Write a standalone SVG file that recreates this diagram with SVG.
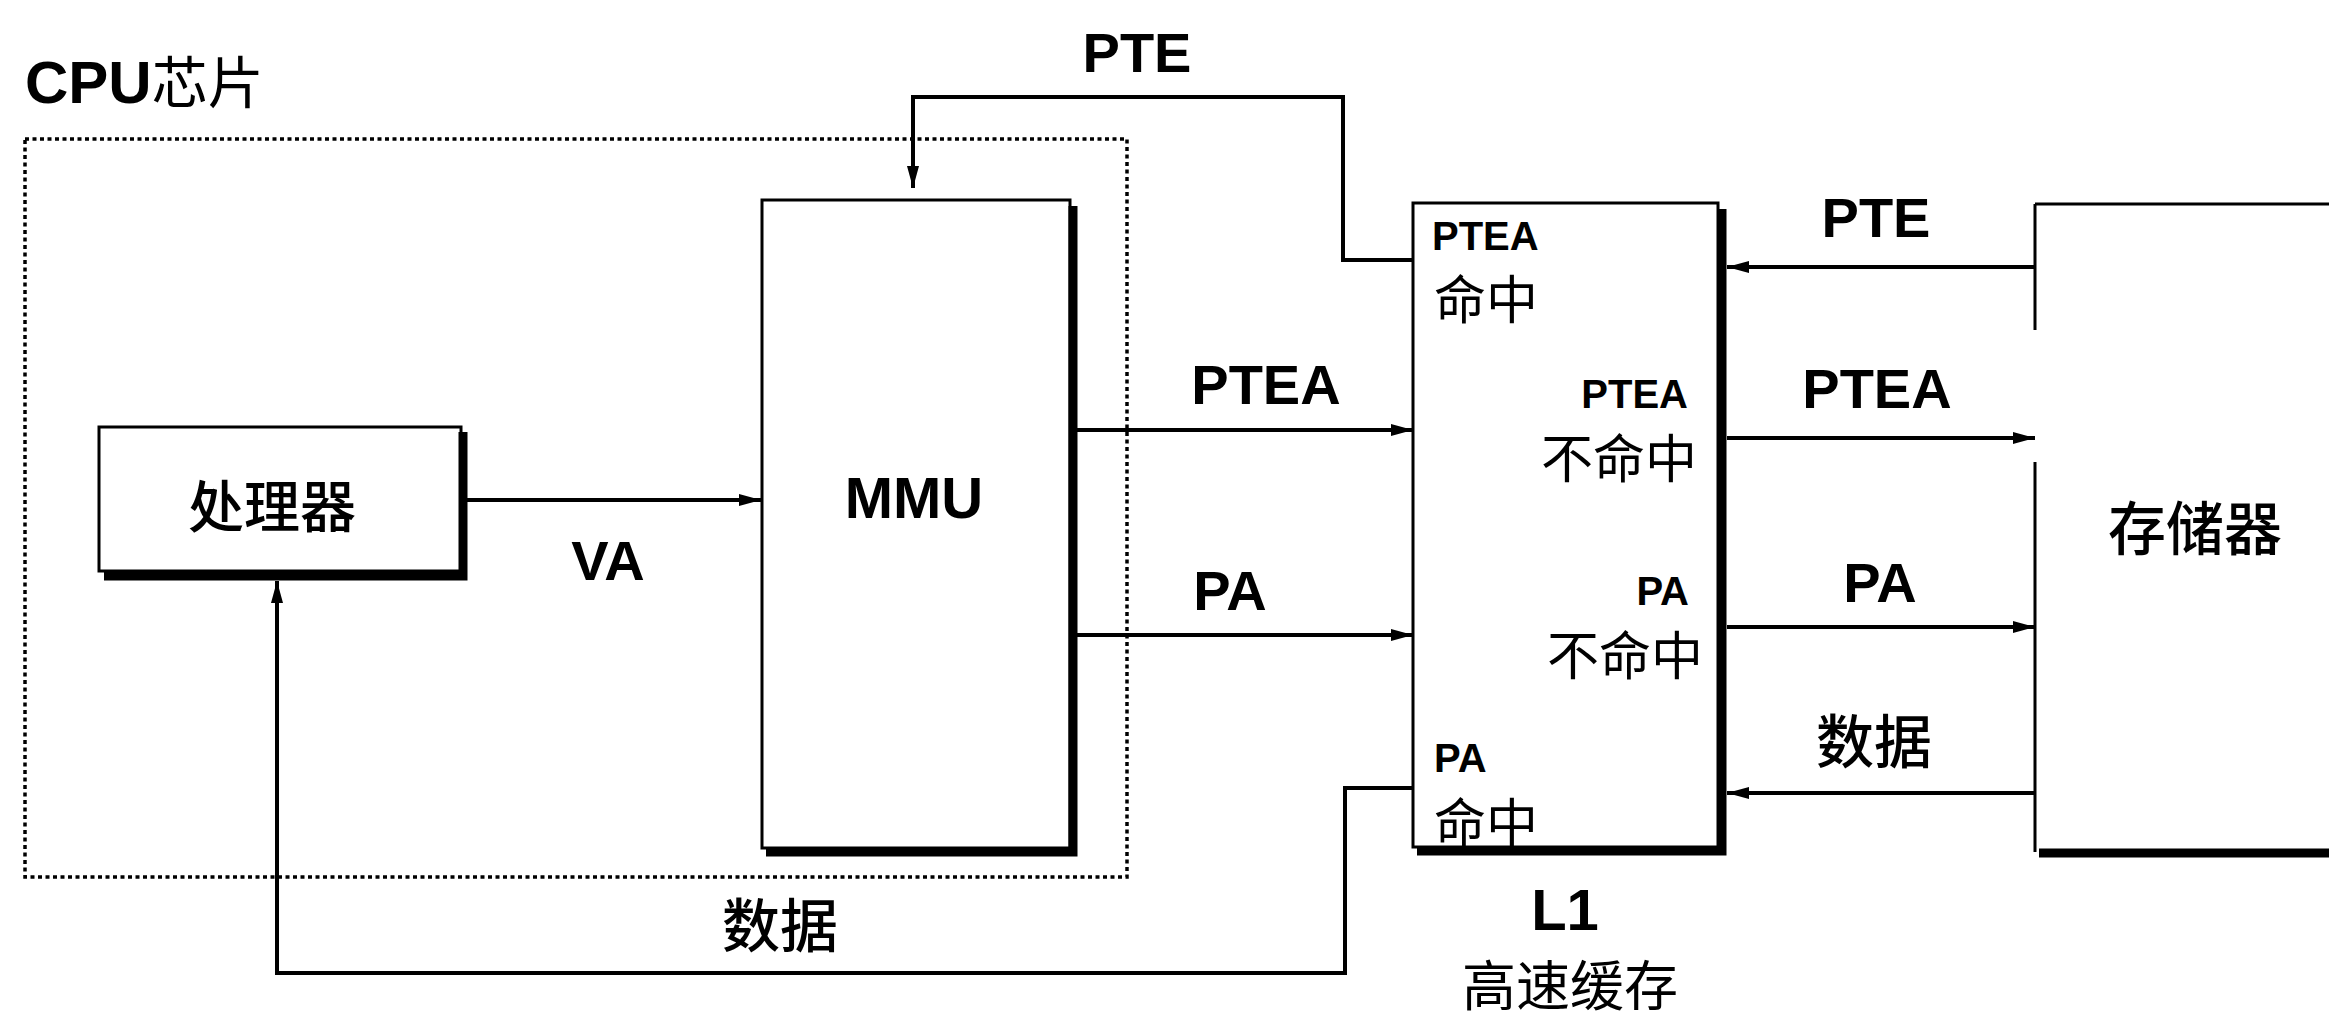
<svg xmlns="http://www.w3.org/2000/svg" width="2329" height="1023" viewBox="0 0 2329 1023">
<style>
  .box{fill:#fff;stroke:#000;stroke-width:3}
  .shadow{fill:none;stroke:#000;stroke-width:9;stroke-linejoin:miter}
  .edge{fill:none;stroke:#000;stroke-width:3}
  .dash{fill:none;stroke:#000;stroke-width:3.5;stroke-dasharray:4 3.5}
  .conn{fill:none;stroke:#000;stroke-width:4;stroke-linejoin:miter}
  .lat{font-family:"Liberation Sans",Arial,sans-serif;font-weight:bold;fill:#000}
  .cjk{font-family:"Noto Sans CJK SC","Noto Sans",sans-serif;fill:#000}
  .med{font-weight:500}
  .big{font-size:56px}
  .small{font-size:40px}
  .in{font-size:52px}
  .c{text-anchor:middle}
  .r{text-anchor:end}
</style>
<defs>
  <marker id="ah" viewBox="0 0 22 12" refX="22" refY="6" markerWidth="22" markerHeight="12" markerUnits="userSpaceOnUse" orient="auto">
    <path d="M0,0 L22,6 L0,12 z" fill="#000"/>
  </marker>
</defs>
<rect width="2329" height="1023" fill="#fff"/>

<g id="cpu-chip">
  <rect class="dash" x="25" y="139" width="1102" height="738"/>
  <text x="25" y="103" class="lat" font-size="60">CPU<tspan class="cjk" font-size="56" font-weight="normal">芯片</tspan></text>
</g>

<g id="processor">
  <rect class="box" x="99" y="427" width="362" height="144"/>
  <path class="shadow" d="M463,432 V576 H104"/>
  <text x="272" y="527" class="cjk med big c">处理器</text>
</g>

<g id="mmu">
  <rect class="box" x="762" y="200" width="308" height="648"/>
  <path class="shadow" d="M1073,206 V852 H766"/>
  <text x="914" y="518" class="lat c" font-size="58">MMU</text>
</g>

<g id="l1-cache">
  <rect class="box" x="1413" y="203" width="305" height="644"/>
  <path class="shadow" d="M1722,209 V851 H1417"/>
  <text x="1432" y="250" class="lat small">PTEA</text>
  <text x="1434" y="319" class="cjk in">命中</text>
  <text x="1688" y="408" class="lat small r">PTEA</text>
  <text x="1697" y="478" class="cjk in r">不命中</text>
  <text x="1689" y="605" class="lat small r">PA</text>
  <text x="1703" y="675" class="cjk in r">不命中</text>
  <text x="1434" y="772" class="lat small">PA</text>
  <text x="1434" y="842" class="cjk in">命中</text>
  <text x="1565" y="930" class="lat c" font-size="58">L1</text>
  <text x="1570" y="1006" class="cjk c" font-size="54">高速缓存</text>
</g>

<g id="memory">
  <path class="edge" d="M2035,204 H2329 M2035,204 V330 M2035,462 V852"/>
  <path class="shadow" d="M2039,853 H2329"/>
  <text x="2195" y="550" class="cjk med c" font-size="58">存储器</text>
</g>

<g id="connectors">
  <path class="conn" d="M463,500 H761" marker-end="url(#ah)"/>
  <path class="conn" d="M1075,430 H1413" marker-end="url(#ah)"/>
  <path class="conn" d="M1075,635 H1413" marker-end="url(#ah)"/>
  <path class="conn" d="M1413,260 H1343 V97 H913 V188" marker-end="url(#ah)"/>
  <path class="conn" d="M2035,267 H1727" marker-end="url(#ah)"/>
  <path class="conn" d="M1727,438 H2035" marker-end="url(#ah)"/>
  <path class="conn" d="M1727,627 H2035" marker-end="url(#ah)"/>
  <path class="conn" d="M2035,793 H1727" marker-end="url(#ah)"/>
  <path class="conn" d="M1413,788 H1345 V973 H277 V581" marker-end="url(#ah)"/>
  <text x="1137" y="72" class="lat big c">PTE</text>
  <text x="608" y="580" class="lat big c">VA</text>
  <text x="1266" y="404" class="lat big c">PTEA</text>
  <text x="1230" y="610" class="lat big c">PA</text>
  <text x="1876" y="237" class="lat big c">PTE</text>
  <text x="1877" y="408" class="lat big c">PTEA</text>
  <text x="1880" y="602" class="lat big c">PA</text>
  <text x="1874" y="763" class="cjk med c" font-size="58">数据</text>
  <text x="780" y="947" class="cjk med c" font-size="58">数据</text>
</g>
</svg>
